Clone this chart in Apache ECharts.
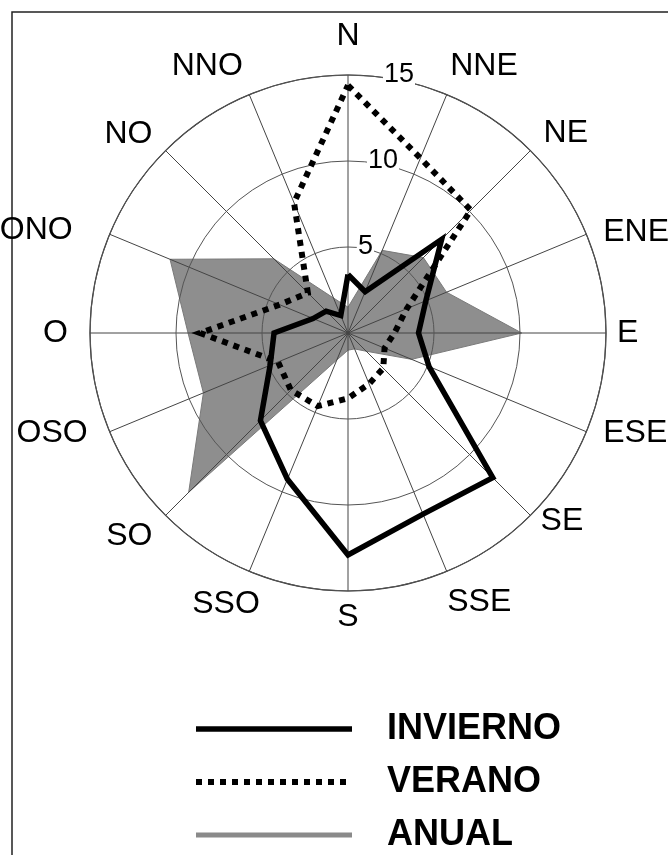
<!DOCTYPE html>
<html>
<head>
<meta charset="utf-8">
<script src="https://cdn.jsdelivr.net/npm/echarts@6/dist/echarts.min.js"></script>
<style>
	html, body { margin: 0; padding: 0; background: #fff; }
	#main { width: 668px; height: 855px; }
</style>
</head>
<body>
<div id="main"></div>
<script>
	// rumbos, en sentido horario desde el norte
	var directions = ['N', 'NNE', 'NE', 'ENE', 'E', 'ESE', 'SE', 'SSE', 'S', 'SSO', 'SO', 'OSO', 'O', 'ONO', 'NO', 'NNO'];
	var invierno = [3.4, 2.6, 7.7, 4.9, 4.1, 5.1, 11.9, 11.4, 12.9, 9.2, 7.2, 4.9, 4.3, 2.2, 1.8, 1.1];
	var verano = [14.4, 11.0, 10.1, 3.7, 2.7, 2.3, 2.9, 3.2, 3.8, 4.6, 4.7, 4.4, 8.6, 4.3, 3.3, 8.2];
	var anual = [1.5, 5.2, 6.2, 6.2, 10.1, 4.0, 1.5, 1.0, 1.0, 1.7, 13.1, 9.1, 9.3, 11.2, 6.1, 2.2];
	var radiusTicks = [0, 5, 10, 15];

	var font = 'Liberation Sans, Arial, sans-serif';
	var step = 360 / directions.length;

	// ajuste fino de cada rotulo [arriba, derecha, abajo, izquierda]
	var labelPad = [
		[0, 0, 61, 0], [0, 0, 48, 18], [0, 0, 28, 40], [0, 0, 1, 52],
		[0, 0, 0, 49], [0, 0, 0, 52], [17, 0, 0, 37], [50, 0, 0, 15],
		[48, 0, 0, 0], [52, 4, 0, 0], [32, 40, 0, 0], [0, 57, 0, 0],
		[0, 60, 0, 0], [0, 72, 3, 0], [0, 40, 27, 0], [0, 21, 48, 0]
	];
	var labelShift = { 5: 9, 10: 19, 15: 35 };

	// puntos [valor, angulo], cerrando el poligono en el norte
	function closed(values) {
		var pts = values.map(function (v, i) { return [v, i * step]; });
		pts.push([values[0], 360]);
		return pts;
	}

	var dirRich = {};
	labelPad.forEach(function (p, i) {
		dirRich['d' + i] = { fontSize: 32, color: '#000', fontFamily: font, padding: p };
	});

	var radRich = { t: { fontSize: 27, color: '#000', backgroundColor: '#fff', padding: [0, 1], fontFamily: font } };
	radiusTicks.forEach(function (v) { radRich['s' + v] = { width: labelShift[v] || 0 }; });

	var option = {
		backgroundColor: '#fff',
		animation: false,
		graphic: [{
			type: 'rect',
			shape: { x: 12, y: 12, width: 720, height: 900 },
			style: { fill: 'none', stroke: '#222', lineWidth: 1.5 }
		}],
		polar: { center: [348, 333], radius: 258 },
		angleAxis: {
			type: 'value',
			min: 0,
			max: 360,
			interval: step,
			startAngle: 90,
			clockwise: true,
			z: 2,
			axisLine: { lineStyle: { color: '#333', width: 1.2 } },
			axisTick: { show: false },
			axisLabel: {
				margin: -38,
				formatter: function (v) {
					var i = Math.round(v / step);
					if (i >= directions.length) return '';
					return '{d' + i + '|' + directions[i] + '}';
				},
				rich: dirRich
			},
			splitLine: { show: true, lineStyle: { color: '#444', width: 1 } }
		},
		radiusAxis: {
			type: 'value',
			min: radiusTicks[0],
			max: radiusTicks[radiusTicks.length - 1],
			interval: 5,
			z: 3,
			axisLine: { show: false },
			axisTick: { show: false },
			splitLine: { show: true, lineStyle: { color: '#555', width: 1 } },
			axisLabel: {
				showMinLabel: false,
				margin: 0,
				align: 'left',
				verticalAlign: 'middle',
				formatter: function (v) { return '{s' + v + '| }{t|' + v + '}'; },
				rich: radRich
			}
		},
		legend: {
			orient: 'vertical',
			left: 188,
			top: 706,
			height: 150,
			itemWidth: 156,
			itemHeight: 14,
			itemGap: 17,
			itemStyle: { opacity: 0 },
			textStyle: { fontSize: 36, lineHeight: 36, fontWeight: 'bold', color: '#000', fontFamily: font, padding: [0, 0, 0, 30] },
			data: [
				{ name: 'INVIERNO', lineStyle: { width: 5.5 } },
				{ name: 'VERANO', lineStyle: { width: 6 } },
				{ name: 'ANUAL', lineStyle: { width: 5, color: '#8a8a8a' } }
			]
		},
		series: [
			{
				name: 'ANUAL',
				type: 'line',
				coordinateSystem: 'polar',
				data: closed(anual),
				symbol: 'none',
				clip: false,
				z: 1,
				lineStyle: { color: '#7a7a7a', width: 1 },
				itemStyle: { color: '#8a8a8a' },
				areaStyle: { color: '#8e8e8e', opacity: 1 }
			},
			{
				name: 'VERANO',
				type: 'line',
				coordinateSystem: 'polar',
				data: closed(verano),
				symbol: 'none',
				clip: false,
				z: 4,
				itemStyle: { color: '#000' },
				lineStyle: { color: '#000', width: 6, type: [6, 6], cap: 'butt', join: 'miter' }
			},
			{
				name: 'INVIERNO',
				type: 'line',
				coordinateSystem: 'polar',
				data: closed(invierno),
				symbol: 'none',
				clip: false,
				z: 5,
				itemStyle: { color: '#000' },
				lineStyle: { color: '#000', width: 5.5, cap: 'butt', join: 'miter' }
			}
		]
	};

	var myChart = echarts.init(document.getElementById('main'));
	myChart.setOption(option);
</script>
</body>
</html>
